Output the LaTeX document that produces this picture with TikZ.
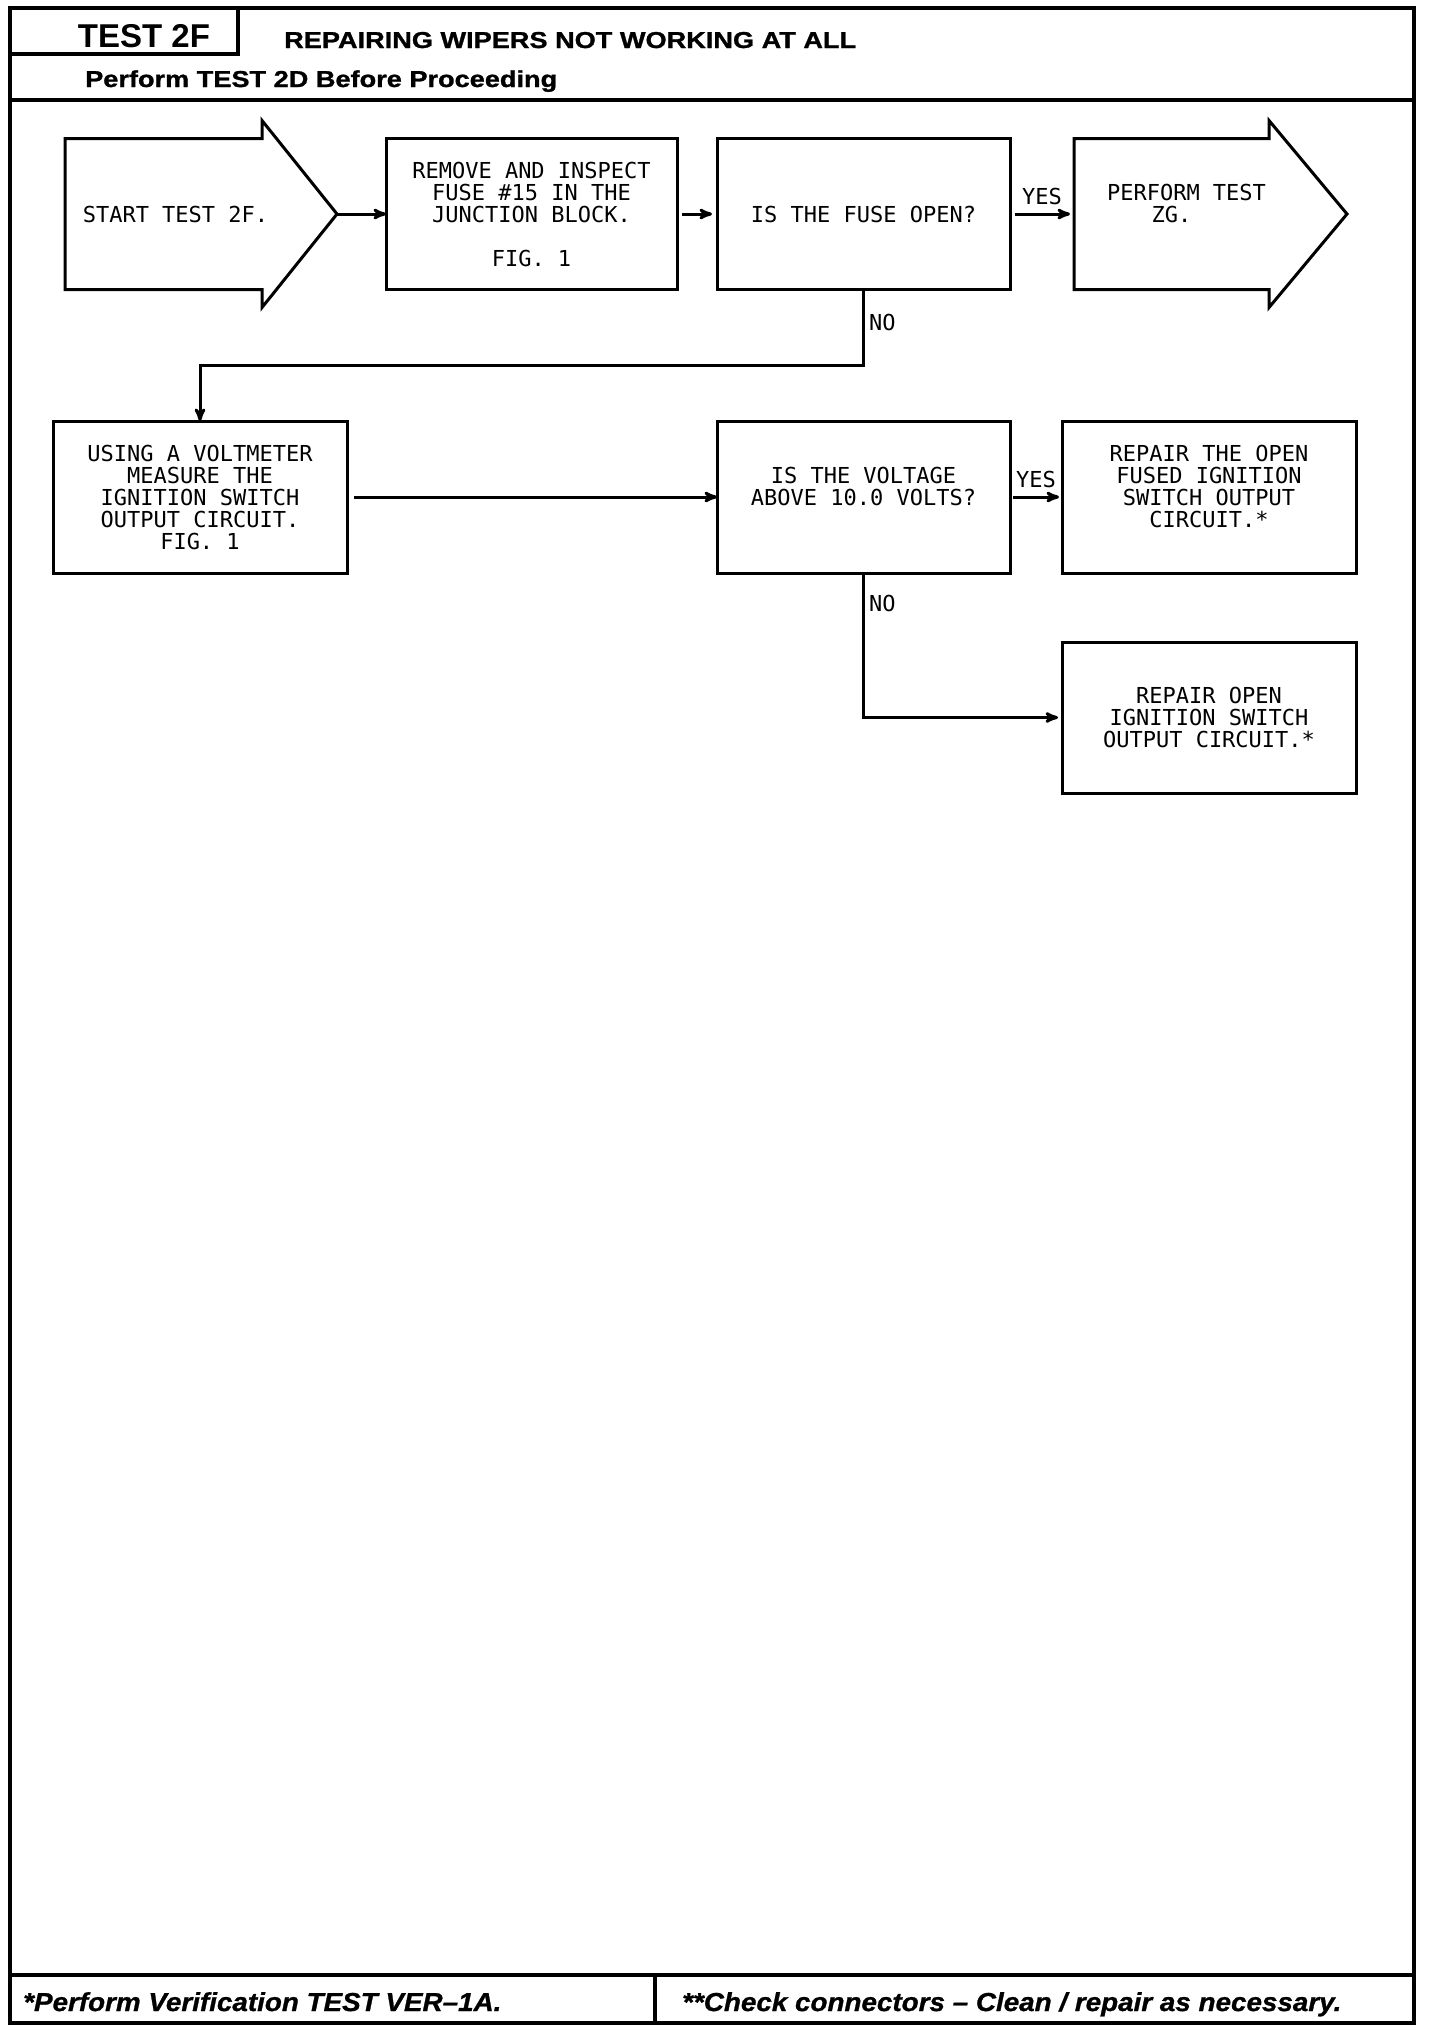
\documentclass[tikz,border=0pt]{standalone}
\usepackage{fontspec}
\setmainfont{Liberation Sans}
\newfontfamily\plotfont{DejaVu Sans Mono}
\newfontfamily\headfont[FakeStretch=1.18,FakeBold=1.2]{Liberation Sans}
\newfontfamily\footfont[FakeStretch=1.07,FakeBold=1]{Liberation Sans}
\usetikzlibrary{calc}
\usetikzlibrary{arrows}

\begin{document}
\begin{tikzpicture}[x=1pt,y=-1pt,
  box/.style={draw,line width=3pt,outer sep=0pt,inner sep=0pt,minimum width=294pt,minimum height=152pt,align=center,font=\plotfont\fontsize{22}{22}\selectfont},
  arrowbody/.style={box,draw=none},
  flow/.style={->,>=stealth',line width=3pt},
  lbl/.style={font=\plotfont\fontsize{22}{22}\selectfont,inner sep=4pt},
  frame/.style={line width=3.5pt},
  head/.style={inner sep=0pt,font=\headfont\fontsize{23}{23}\selectfont\bfseries},
  foot/.style={inner sep=0pt,font=\footfont\fontsize{26}{26}\selectfont\bfseries\itshape}]
\useasboundingbox (0,0) rectangle (1440,2030);
\draw[frame] (10,8) rectangle (1414,2023);
\draw[frame] (10,54) -- (238,54) -- (238,8);
\draw[frame] (10,100) -- (1414,100);
\draw[frame] (10,1975) -- (1414,1975);
\draw[frame] (655,1975) -- (655,2023);
\node[inner sep=0pt,anchor=base,font=\fontsize{33}{33}\selectfont\bfseries] (testid) at (144,47) {TEST 2F};
\node[head,anchor=base west] (title) at (284,48) {REPAIRING WIPERS NOT WORKING AT ALL};
\node[head,anchor=base west] (before) at (85,87) {Perform TEST 2D Before Proceeding};
\node[foot,anchor=base west] (verify) at (23,2011) {*Perform Verification TEST VER–1A.};
\node[foot,anchor=base west] (check) at (682,2011) {**Check connectors – Clean / repair as necessary.};

\node[arrowbody,minimum width=197pt,minimum height=151pt] (start) at (163.5,214) {\hspace*{12pt}START TEST 2F.\hspace*{-12pt}};
\draw[box] (start.north west) -- (start.north east) -- ++(0,-18) -- ($(start.east)+(75,0)$) coordinate (starttip) -- ($(start.south east)+(0,18)$) -- (start.south east) -- (start.south west) -- cycle;
\node[box,minimum width=291pt,minimum height=151pt] (remove) at (531.5,214) {REMOVE AND INSPECT\\FUSE \#15 IN THE\\JUNCTION BLOCK.\\[22pt]FIG. 1};
\node[box,minimum width=293pt,minimum height=151pt] (fuse) at (863.5,214) {IS THE FUSE OPEN?};
\node[arrowbody,minimum width=195pt,minimum height=151pt] (perform) at (1171.5,214) {\hspace*{30pt}PERFORM TEST\\ZG.\\ \mbox{}};
\draw[box] (perform.north west) -- (perform.north east) -- ++(0,-18) -- ($(perform.east)+(78,0)$) -- ($(perform.south east)+(0,18)$) -- (perform.south east) -- (perform.south west) -- cycle;

\node[box] (volt) at (200,497) {USING A VOLTMETER\\MEASURE THE\\IGNITION SWITCH\\OUTPUT CIRCUIT.\\FIG. 1};
\node[box,minimum width=293pt] (voltq) at (863.5,497) {IS THE VOLTAGE\\ABOVE 10.0 VOLTS?\\ \mbox{}};
\node[box] (fixfused) at (1209,497) {REPAIR THE OPEN\\FUSED IGNITION\\SWITCH OUTPUT\\CIRCUIT.*\\ \mbox{}};
\node[box,minimum height=151pt] (fixopen) at (1209,717.5) {REPAIR OPEN\\IGNITION SWITCH\\OUTPUT CIRCUIT.*};

\draw[flow] (starttip) -- (remove.west);
\draw[flow,shorten <=5pt,shorten >=5pt] (remove.east) -- (fuse.west);
\draw[flow,shorten <=5pt,shorten >=4pt] (fuse.east) -- node[lbl,above=4pt]{YES} (perform.west);
\draw[flow] (fuse.south) |- node[lbl,pos=0.22,right]{NO} ($(volt.north)+(0,-56)$) -| (volt.north);
\draw[flow,shorten <=7pt] (volt.east) -- (voltq.west);
\draw[flow,shorten <=3pt,shorten >=3pt] (voltq.east) -- node[lbl,above=4pt]{YES} (fixfused.west);
\draw[flow,shorten >=4pt] (voltq.south) |- node[lbl,pos=0.105,right]{NO} (fixopen.west);
\end{tikzpicture}
\end{document}
